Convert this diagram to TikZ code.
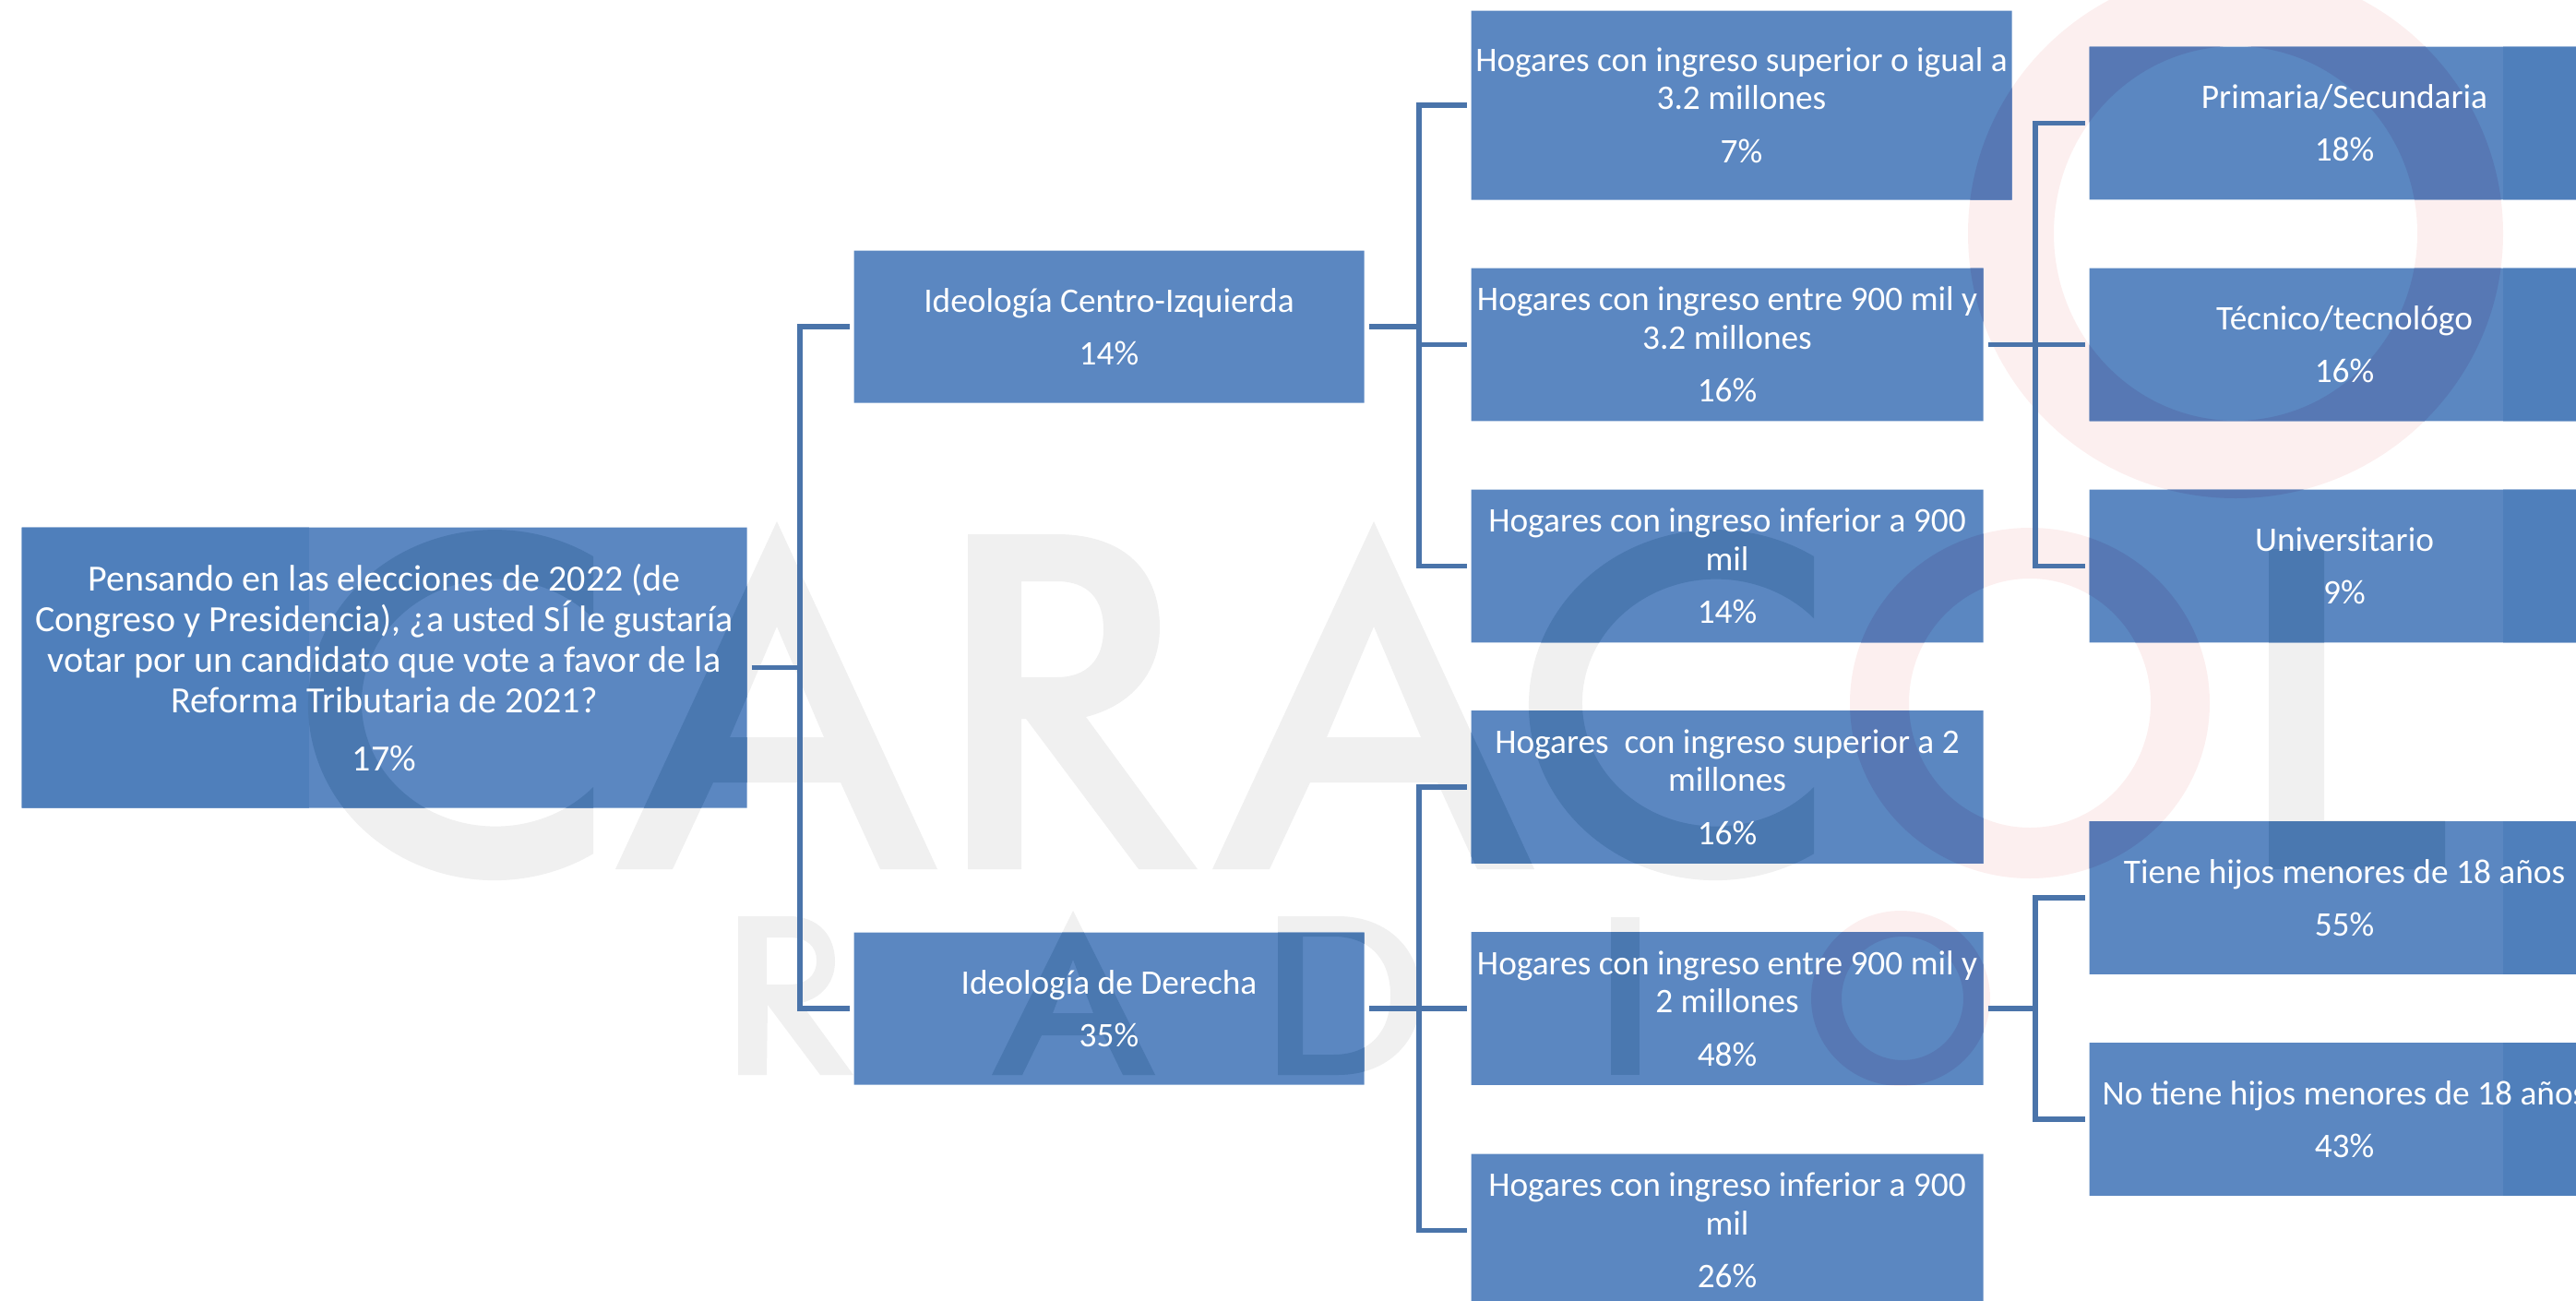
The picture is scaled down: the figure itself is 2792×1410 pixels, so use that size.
\documentclass[tikz,border=0pt]{standalone}
\usepackage{fontspec}
\setmainfont{Carlito}
\usetikzlibrary{backgrounds}

\definecolor{cajaazul}{RGB}{91,135,193}
\definecolor{franjaazul}{RGB}{79,127,187}
\definecolor{lineaazul}{RGB}{74,116,170}
\definecolor{marcagris}{RGB}{240,240,240}
\definecolor{marcarosa}{RGB}{252,239,239}
\definecolor{sobregris}{RGB}{74,120,176}
\definecolor{sobrerosa}{RGB}{87,120,180}

\tikzset{every picture/.style={line width=0.75pt},
  caja/.style={inner sep=0pt,text=white,align=center,font=\fontsize{28}{31}\selectfont},
  rootcaja/.style={caja,minimum width=588.75pt,minimum height=227.25pt,font=\fontsize{30}{33}\selectfont},
  ideocaja/.style={caja,minimum width=414pt,minimum height=123pt},
  ingcaja/.style={caja,minimum width=415.5pt,minimum height=123.5pt},
  educaja/.style={caja,minimum width=414pt,minimum height=123.5pt},
  linea/.style={draw=lineaazul,line width=3.8pt},
  cuelga/.style={linea,shorten <=3.75pt},
  ramal/.style={linea,shorten <=3.75pt,shorten >=3.75pt}}

% grey letters of the mark
\newcommand{\letrasmarca}[1]{
\fill [#1,even odd rule] (643,603) arc [start angle=-58,end angle=-302,x radius=202,y radius=190] -- (643,853) arc [start angle=43,end angle=317,x radius=145,y radius=134] -- cycle ;
\fill [#1,even odd rule] (842,565) -- (1016,942) -- (954,942) -- (911,848) -- (773,848) -- (729,942) -- (667,942) -- cycle (842,679) -- (893,799) -- (791,799) -- cycle ;
\fill [#1,even odd rule] (1049,579) -- (1145,579) .. controls (1220,579) and (1257,620) .. (1257,680) .. controls (1257,730) and (1225,765) .. (1177,777) -- (1298,942) -- (1234,942) -- (1112,779) -- (1107,779) -- (1107,942) -- (1049,942) -- cycle (1107,630) -- (1145,630) .. controls (1180,630) and (1196,650) .. (1196,682) .. controls (1196,715) and (1178,734) .. (1145,734) -- (1107,734) -- cycle ;
\fill [#1,even odd rule] (1489,565) -- (1663,942) -- (1601,942) -- (1558,848) -- (1420,848) -- (1376,942) -- (1314,942) -- cycle (1489,679) -- (1540,799) -- (1438,799) -- cycle ;
\fill [#1,even odd rule] (1966,603) arc [start angle=-58,end angle=-302,x radius=202,y radius=190] -- (1966,853) arc [start angle=43,end angle=317,x radius=145,y radius=134] -- cycle ;
\fill [#1] (2459,595) -- (2519,595) -- (2519,889) -- (2650,889) -- (2650,942) -- (2459,942) -- cycle ;
\fill [#1,even odd rule] (800,993) -- (855,993) .. controls (888,993) and (905,1015) .. (905,1042) .. controls (905,1065) and (890,1082) .. (868,1087) -- (925,1165) -- (889,1165) -- (832,1089) -- (831,1165) -- (800,1165) -- cycle (831,1016) -- (855,1016) .. controls (875,1016) and (885,1026) .. (885,1041) .. controls (885,1058) and (873,1067) .. (855,1067) -- (831,1067) -- cycle ;
\fill [#1,even odd rule] (1163,987) -- (1252,1165) -- (1217,1165) -- (1196,1122) -- (1129,1122) -- (1108,1165) -- (1075,1165) -- cycle (1163,1040) -- (1185,1098) -- (1141,1098) -- cycle ;
\fill [#1,even odd rule] (1385,993) -- (1450,993) .. controls (1505,993) and (1540,1030) .. (1540,1079) .. controls (1540,1128) and (1505,1165) .. (1450,1165) -- (1385,1165) -- cycle (1412,1015) -- (1445,1015) .. controls (1485,1015) and (1507,1040) .. (1507,1079) .. controls (1507,1118) and (1485,1143) .. (1445,1143) -- (1412,1143) -- cycle ;
\fill [#1] (1746,994) rectangle (1777,1165) ;
}
% red rings of the mark
\newcommand{\arosmarca}[1]{
\fill [#1,even odd rule] (2423,253) ellipse [x radius=290,y radius=287] (2423,253) ellipse [x radius=197,y radius=203] ;
\fill [#1,even odd rule] (2200,762) ellipse [x radius=195,y radius=190] (2200,762) ellipse [x radius=131,y radius=135] ;
\fill [#1,even odd rule] (2060,1082) ellipse [x radius=97,y radius=95] (2062,1082) ellipse [x radius=66,y radius=67] ;
}
\newcommand{\cajas}{(root.south west) rectangle (root.north east) (izq.south west) rectangle (izq.north east) (der.south west) rectangle (der.north east) (inga.south west) rectangle (inga.north east) (ingb.south west) rectangle (ingb.north east) (ingc.south west) rectangle (ingc.north east) (ingd.south west) rectangle (ingd.north east) (inge.south west) rectangle (inge.north east) (ingf.south west) rectangle (ingf.north east) (prim.south west) rectangle (prim.north east) (tecn.south west) rectangle (tecn.north east) (univ.south west) rectangle (univ.north east) (hijos.south west) rectangle (hijos.north east) (nohijos.south west) rectangle (nohijos.north east)}

\begin{document}
\begin{tikzpicture}[x=0.75pt,y=0.75pt,yscale=-1,xscale=1]
\useasboundingbox (0,0) rectangle (2792,1410);

% Text Node
\node [rootcaja] (root) at (416.5,723.5) {Pensando en las elecciones de 2022 (de\\Congreso y Presidencia), ¿a usted SÍ le gustaría\\votar por un candidato que vote a favor de la\\Reforma Tributaria de 2021?\\[14pt]17\%};
% Text Node
\node [ideocaja] (izq) at (1202,354) {Ideología Centro-Izquierda\\[12pt]14\%};
\node [ideocaja] (der) at (1202,1093) {Ideología de Derecha\\[12pt]35\%};
% Text Node
\node [ingcaja,minimum width=438.75pt,minimum height=153pt] (inga) at (1887.5,114) {Hogares con ingreso superior o igual a\\3.2 millones\\[12pt]7\%};
\node [ingcaja] (ingb) at (1872,373.5) {Hogares con ingreso entre 900 mil y\\3.2 millones\\[12pt]16\%};
\node [ingcaja] (ingc) at (1872,613.5) {Hogares con ingreso inferior a 900\\mil\\[12pt]14\%};
\node [ingcaja] (ingd) at (1872,853) {Hogares\ \ con ingreso superior a 2\\millones\\[12pt]16\%};
\node [ingcaja] (inge) at (1872,1093) {Hogares con ingreso entre 900 mil y\\2 millones\\[12pt]48\%};
\node [ingcaja] (ingf) at (1872,1333.5) {Hogares con ingreso inferior a 900\\mil\\[12pt]26\%};
% Text Node
\node [educaja] (prim) at (2541,133.5) {Primaria/Secundaria\\[12pt]18\%};
\node [educaja] (tecn) at (2541,373.5) {Técnico/tecnológo\\[12pt]16\%};
\node [educaja] (univ) at (2541,613.5) {Universitario\\[12pt]9\%};
\node [educaja] (hijos) at (2541,973) {Tiene hijos menores de 18 años\\[12pt]55\%};
\node [educaja] (nohijos) at (2541,1213) {No tiene hijos menores de 18 años\\[12pt]43\%};

\begin{scope}[on background layer]
\letrasmarca{marcagris}
\arosmarca{marcarosa}
\fill [cajaazul] \cajas ;
\begin{scope}
\clip \cajas ;
\fill [franjaazul] (0,0) rectangle (335,1410) ;
\fill [franjaazul] (2713,0) rectangle (2792,1410) ;
\letrasmarca{sobregris}
\arosmarca{sobrerosa}
\end{scope}
\end{scope}

\coordinate (busroot) at (867,723.5);
\coordinate (busizq) at (1538,354);
\coordinate (busder) at (1538,1093);
\coordinate (busedu) at (2206,373.5);
\coordinate (bushijos) at (2206,1093);

%Straight Lines
\draw [cuelga] (root.east) -- (root.east -| busroot) ;
\draw [ramal] (izq.west) -| (busroot) |- (der.west) ;
%Straight Lines
\draw [cuelga] (izq.east) -- (izq.east -| busizq) ;
\draw [cuelga] (ingb.west) -- (ingb.west -| busizq) ;
\draw [ramal] (inga.west) -| (busizq) |- (ingc.west) ;
%Straight Lines
\draw [ramal] (der.east) -- (inge.west) ;
\draw [ramal] (ingd.west) -| (busder) |- (ingf.west) ;
%Straight Lines
\draw [ramal] (ingb.east) -- (tecn.west) ;
\draw [ramal] (prim.west) -| (busedu) |- (univ.west) ;
%Straight Lines
\draw [cuelga] (inge.east) -- (inge.east -| bushijos) ;
\draw [ramal] (hijos.west) -| (bushijos) |- (nohijos.west) ;

\end{tikzpicture}
\end{document}
